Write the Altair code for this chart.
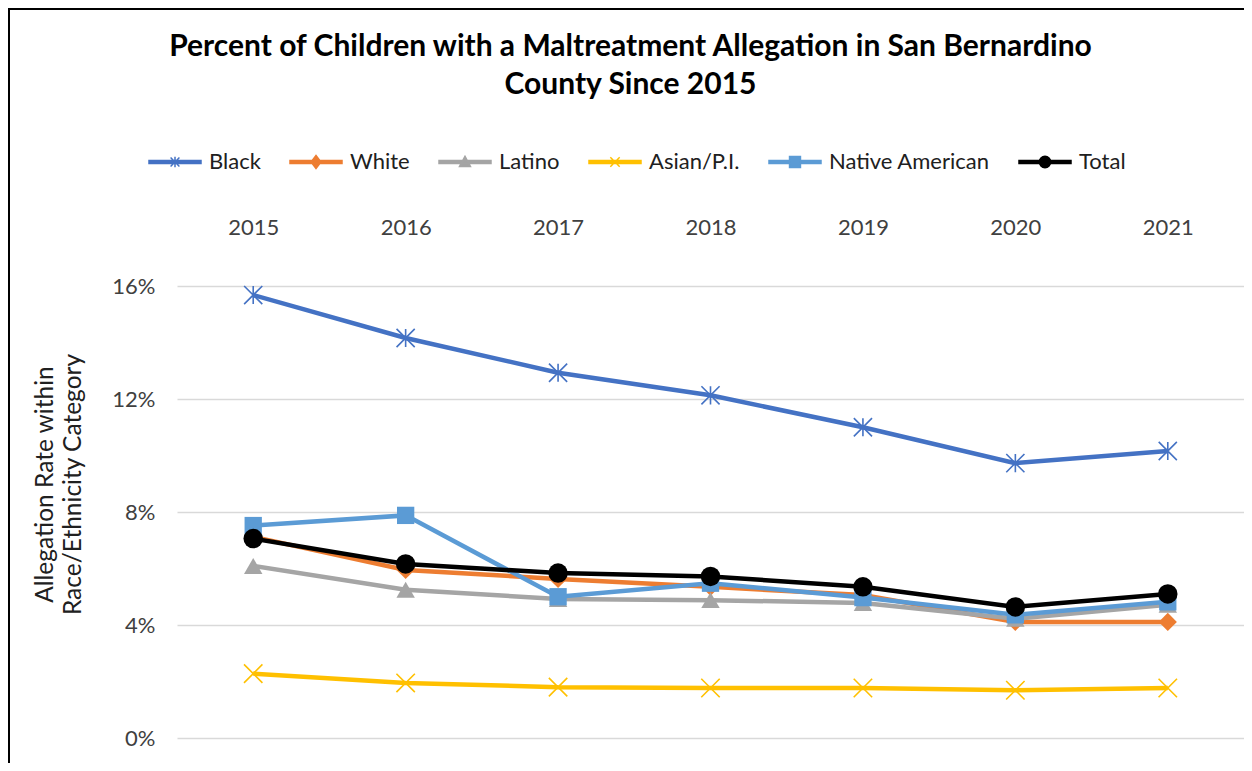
import altair as alt
import pandas as pd

years = ["2015", "2016", "2017", "2018", "2019", "2020", "2021"]
series = ["Black", "White", "Latino", "Asian/P.I.", "Native American", "Total"]
colors = ["#4472C4", "#ED7D31", "#A5A5A5", "#FFC000", "#5B9BD5", "#000000"]

black = [15.68, 14.16, 12.93, 12.13, 11.00, 9.73, 10.16]
white = [7.12, 5.95, 5.63, 5.35, 5.06, 4.11, 4.11]
latino = [6.09, 5.25, 4.92, 4.88, 4.78, 4.22, 4.72]
asian = [2.28, 1.95, 1.80, 1.77, 1.77, 1.69, 1.77]
native = [7.52, 7.88, 5.00, 5.48, 4.97, 4.36, 4.82]
total = [7.06, 6.16, 5.84, 5.72, 5.35, 4.64, 5.10]

values = [black, white, latino, asian, native, total]

rows = []
for s, vals in zip(series, values):
    for y, v in zip(years, vals):
        rows.append({"series": s, "year": y, "rate": v / 100.0})
df = pd.DataFrame(rows)

FONT = "Lato"
TXT = "#404040"

# plot-marker shapes (custom paths scaled by sqrt(size))
ASTER = "M0,-1L0,1M-1,-1L1,1M-1,1L1,-1"
XMARK = "M-1,-1L1,1M-1,1L1,-1"
marker = {
    "Black": dict(shape=ASTER, size=330, filled=False, strokeWidth=1.6),
    "White": dict(shape="diamond", size=330, filled=True, strokeWidth=0),
    "Latino": dict(shape="triangle-up", size=340, filled=True, strokeWidth=0),
    "Asian/P.I.": dict(shape=XMARK, size=340, filled=False, strokeWidth=1.6),
    "Native American": dict(shape="square", size=300, filled=True, strokeWidth=0),
    "Total": dict(shape="circle", size=380, filled=True, strokeWidth=0),
}

# legend symbols: line + small marker
LINE = "M-1,-0.055L1,-0.055L1,0.055L-1,0.055Z"
leg_paths = [
    LINE + "M0,-0.2L0,0.2M-0.17,-0.17L0.17,0.17M-0.17,0.17L0.17,-0.17",
    LINE + "M0,-0.25L0.19,0L0,0.25L-0.19,0Z",
    LINE + "M-0.21,0.17L0,-0.22L0.21,0.17Z",
    LINE + "M-0.18,-0.18L0.18,0.18M-0.18,0.18L0.18,-0.18",
    LINE + "M-0.21,-0.21L0.21,-0.21L0.21,0.21L-0.21,0.21Z",
    LINE + "M0.22,0A0.22,0.22 0 1,1 -0.22,0A0.22,0.22 0 1,1 0.22,0Z",
]

W, H = 1067, 452

xenc = alt.X(
    "year:O",
    scale=alt.Scale(type="point", padding=0.5),
    axis=alt.Axis(
        orient="top", title=None, domain=False, ticks=False, grid=False,
        labelAngle=0, labelPadding=47, labelFontSize=22, labelFont=FONT,
        labelColor=TXT,
    ),
)
yenc = alt.Y(
    "rate:Q",
    scale=alt.Scale(domain=[0, 0.16], nice=False),
    axis=alt.Axis(
        values=[0, 0.04, 0.08, 0.12, 0.16], format=".0%", domain=False,
        ticks=False, grid=True, gridColor="#D9D9D9", gridWidth=1.3,
        labelPadding=22, labelFontSize=22, labelFont=FONT, labelColor=TXT,
        title=["Allegation Rate within", "Race/Ethnicity Category"],
        titleFont=FONT, titleFontSize=24.5, titleFontWeight="normal",
        titleColor="#202020", titleAngle=-90, titleAlign="center",
        titleBaseline="middle", titleLineHeight=28, titleX=-132, titleY=198,
    ),
)

base = alt.Chart(df)
layers = []
for s, c in zip(series, colors):
    m = marker[s]
    sub = base.transform_filter(alt.datum.series == s)
    line = sub.mark_line(color=c, strokeWidth=4.5).encode(x=xenc, y=yenc)
    pt = sub.mark_point(
        shape=m["shape"], size=m["size"], filled=m["filled"],
        color=c, strokeWidth=m["strokeWidth"], opacity=1,
    ).encode(x=xenc, y=yenc)
    layers += [line, pt]

legend_layer = base.transform_filter("datum.rate < 0").mark_point(
    filled=True, size=2704, strokeWidth=1.5, opacity=1
).encode(
    x=xenc,
    y=yenc,
    color=alt.Color(
        "series:N",
        scale=alt.Scale(domain=series, range=colors),
        legend=alt.Legend(
            title=None, orient="none", direction="horizontal",
            legendX=-29, legendY=-151, symbolSize=2704,
            symbolStrokeWidth=1.5, symbolOpacity=1,
            labelFont=FONT, labelFontSize=22, labelColor="#202020",
            labelOffset=7, columnPadding=26, padding=0, labelLimit=300,
        ),
    ),
    stroke=alt.Stroke("series:N", scale=alt.Scale(domain=series, range=colors), legend=None),
    shape=alt.Shape("series:N", scale=alt.Scale(domain=series, range=leg_paths), legend=None),
)

frame = alt.Chart(alt.Data(values=[{"a": 1}])).mark_rect(
    fill="transparent", stroke="black", strokeWidth=2
).encode(
    x=alt.value(-168), x2=alt.value(W + 100),
    y=alt.value(-277), y2=alt.value(H + 100),
)

chart = alt.layer(frame, *layers, legend_layer).properties(
    width=W,
    height=H,
    autosize=alt.AutoSizeParams(type="none"),
    padding={"left": 169, "top": 278, "right": 0, "bottom": 25},
    title=alt.TitleParams(
        text=["Percent of Children with a Maltreatment Allegation in San Bernardino",
              "County Since 2015"],
        font=FONT, fontSize=30, fontWeight="bold", color="black",
        anchor="middle", dx=-80, dy=96, lineHeight=38,
    ),
).configure_view(strokeWidth=0)

chart.save("out.html", embed_options={"renderer": "svg", "actions": False})
